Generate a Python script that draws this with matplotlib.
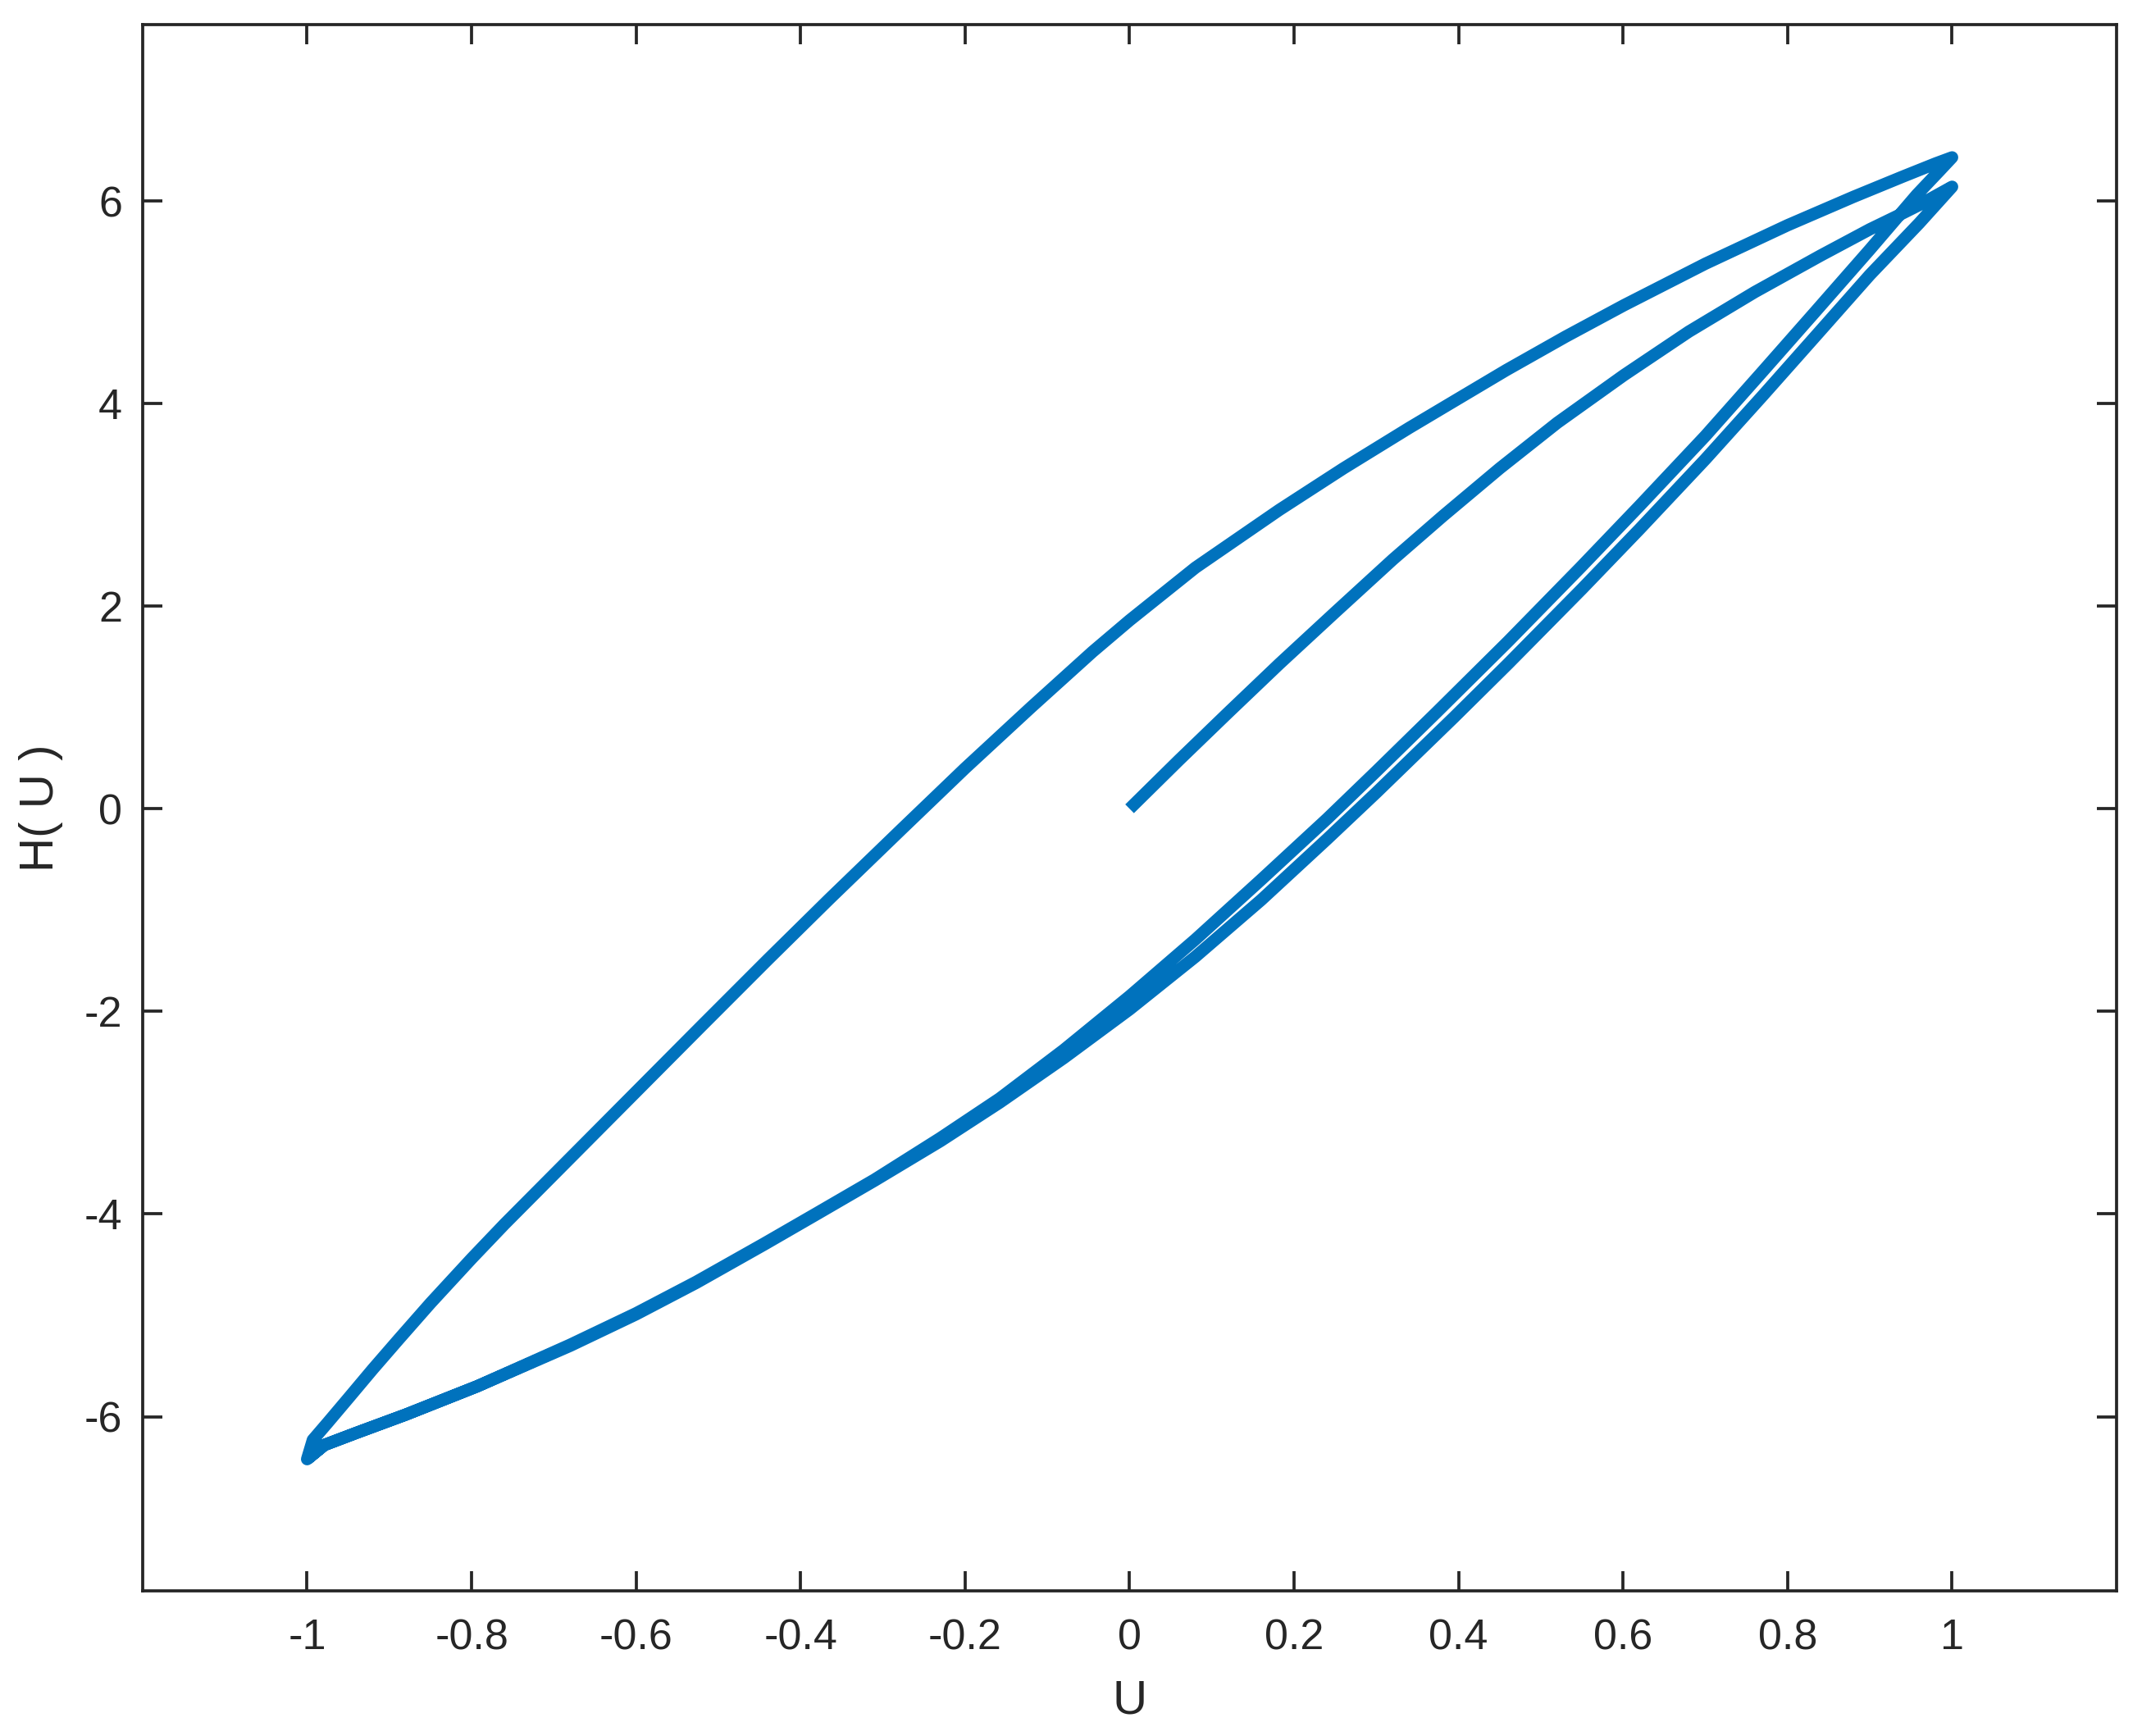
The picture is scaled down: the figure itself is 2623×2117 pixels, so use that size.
import matplotlib
matplotlib.use("Agg")
import matplotlib.pyplot as plt
from matplotlib.ticker import FuncFormatter

plt.rcParams['font.family'] = ['Liberation Sans', 'DejaVu Sans']
plt.rcParams['axes.unicode_minus'] = False

# initial curve, starts at the origin
init_u = [0, 0.06, 0.12, 0.182, 0.25, 0.32, 0.381, 0.45, 0.52, 0.601,
          0.68, 0.76, 0.84, 0.90, 0.933, 0.96, 0.98, 1.0]
init_h = [0, 0.48, 0.95, 1.43, 1.94, 2.46, 2.89, 3.36, 3.81, 4.28,
          4.71, 5.10, 5.46, 5.72, 5.85, 5.96, 6.05, 6.14]

# first descending branch (from the lower tip at U=1)
d1_u = [1.0, 0.99, 0.96, 0.90, 0.84, 0.77, 0.70, 0.62, 0.55, 0.46, 0.394,
        0.30, 0.24, 0.16, 0.08, 0.0, -0.08, -0.158, -0.23, -0.31, -0.38,
        -0.444, -0.527, -0.60, -0.68, -0.793, -0.88, -0.94, -0.979, -1.0]
d1_h = [6.14, 6.05, 5.78, 5.27, 4.72, 4.08, 3.45, 2.76, 2.17, 1.43, 0.90,
        0.16, -0.30, -0.90, -1.46, -1.98, -2.46, -2.90, -3.28, -3.67, -4.00,
        -4.30, -4.68, -4.99, -5.30, -5.70, -5.98, -6.16, -6.28, -6.42]

# ascending branch
asc_u = [-1.0, -0.993, -0.975, -0.95, -0.92, -0.889, -0.85, -0.80, -0.76,
         -0.70, -0.64, -0.58, -0.52, -0.44, -0.365, -0.277, -0.20, -0.12,
         -0.045, 0.0, 0.08, 0.182, 0.26, 0.34, 0.40, 0.458, 0.53, 0.601,
         0.70, 0.80, 0.88, 0.94, 0.98, 1.0]
asc_h = [-6.42, -6.23, -6.06, -5.82, -5.53, -5.24, -4.88, -4.44, -4.10,
         -3.61, -3.12, -2.63, -2.14, -1.49, -0.89, -0.20, 0.40, 1.00,
         1.55, 1.86, 2.38, 2.95, 3.36, 3.76, 4.05, 4.33, 4.66, 4.97,
         5.38, 5.76, 6.04, 6.24, 6.37, 6.43]

# second descending branch (from the upper tip at U=1)
d2_u = [1.0, 0.985, 0.957, 0.90, 0.833, 0.77, 0.70, 0.62, 0.548, 0.46,
        0.373, 0.30, 0.24, 0.16, 0.08, 0.0, -0.08, -0.158, -0.23, -0.31,
        -0.38, -0.444, -0.527, -0.60, -0.68, -0.793, -0.88, -0.94, -0.979, -1.0]
d2_h = [6.43, 6.30, 6.06, 5.52, 4.90, 4.32, 3.68, 2.99, 2.38, 1.65,
        0.95, 0.37, -0.10, -0.70, -1.29, -1.85, -2.38, -2.86, -3.25, -3.66,
        -3.99, -4.29, -4.67, -4.98, -5.29, -5.70, -5.98, -6.16, -6.28, -6.42]

xticks = [-1, -0.8, -0.6, -0.4, -0.2, 0, 0.2, 0.4, 0.6, 0.8, 1]
yticks = [-6, -4, -2, 0, 2, 4, 6]

u = init_u + d1_u + asc_u + d2_u
h = init_h + d1_h + asc_h + d2_h

axcol = '#262626'
fig = plt.figure(figsize=(2623 / 300, 2117 / 300), dpi=300)
ax = fig.add_axes([0.0663, 0.0836, 0.984 - 0.0663, 0.9858 - 0.0836])

ax.plot(u, h, color='#0072BD', linewidth=3.6, solid_joinstyle='round',
        solid_capstyle='butt')

ax.set_xlim(-1.2, 1.2)
ax.set_ylim(-7.72, 7.74)
ax.set_xticks(xticks)
ax.set_yticks(yticks)
ax.xaxis.set_major_formatter(FuncFormatter(lambda v, p: '%g' % round(v, 2)))
ax.yaxis.set_major_formatter(FuncFormatter(lambda v, p: '%g' % v))

ax.tick_params(direction='in', top=True, right=True, length=5.8, width=0.9,
               colors=axcol, labelsize=12.5)
ax.tick_params(axis='x', pad=8)
ax.tick_params(axis='y', pad=6)
for s in ax.spines.values():
    s.set_linewidth(0.9)
    s.set_color(axcol)

ax.set_xlabel('U', fontsize=14, color=axcol, labelpad=6)
ax.set_ylabel('H( U )', fontsize=14, color=axcol, labelpad=6)

fig.savefig('out.png', dpi=300)
